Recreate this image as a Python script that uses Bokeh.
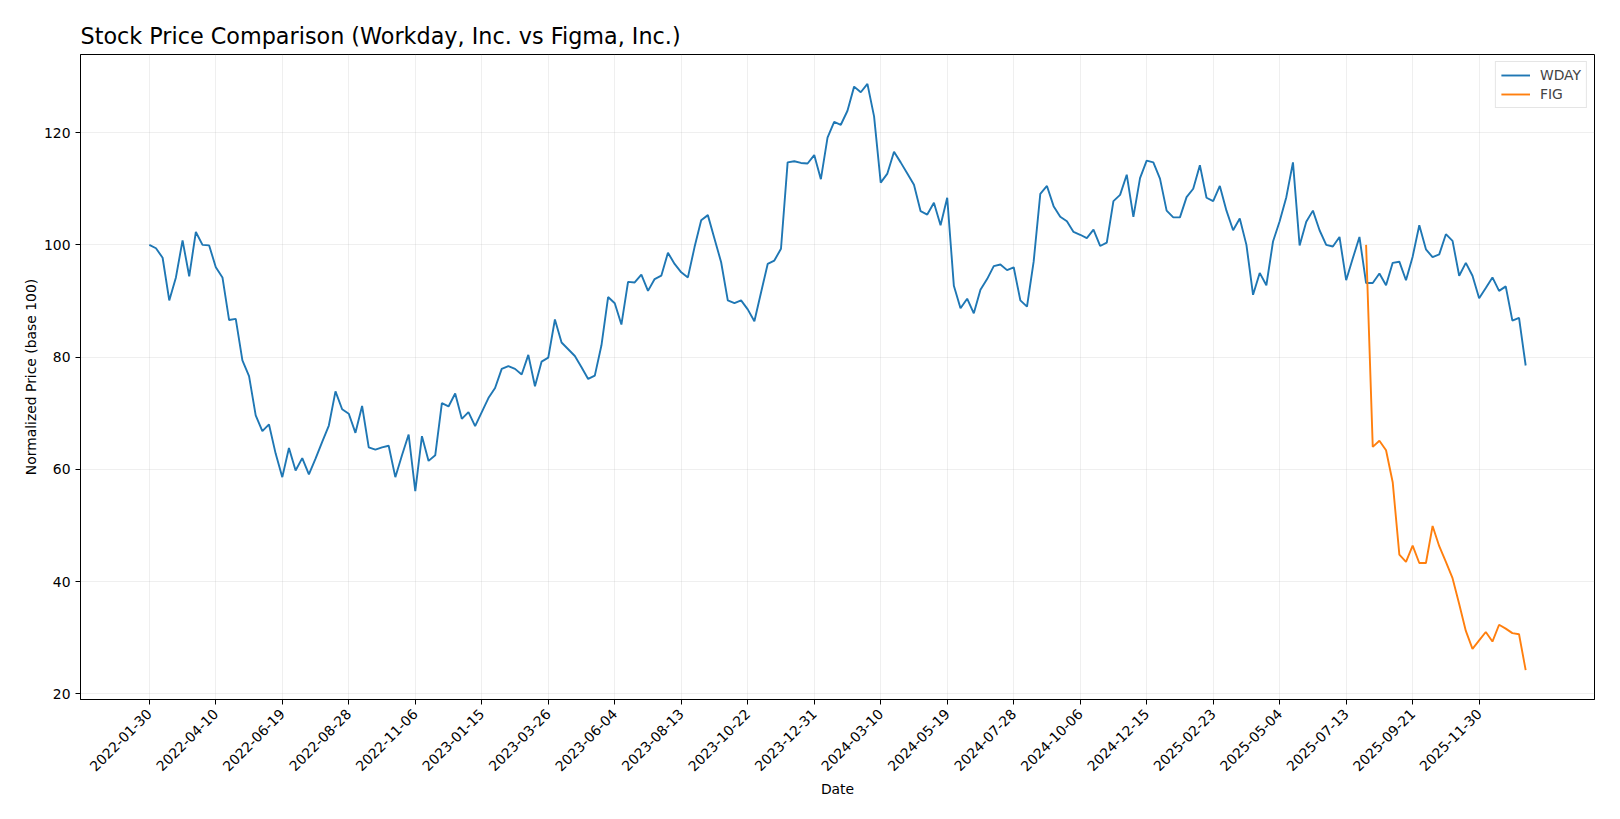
import math
import pandas as pd
from bokeh.plotting import figure
from bokeh.models import (Range1d, FixedTicker, DatetimeTickFormatter, Legend,
                          LegendItem)
from bokeh.embed import file_html
from bokeh.resources import INLINE

TITLE = "Stock Price Comparison (Workday, Inc. vs Figma, Inc.)"
X_LABEL = "Date"
Y_LABEL = "Normalized Price (base 100)"
START_DATE = "2022-01-30"
FIRST_TICK = "2022-01-30"
LAST_TICK = "2025-11-30"
Y_TICKS = [20, 40, 60, 80, 100, 120]

wday = [
    100.0, 99.4, 97.7, 90.1, 94.2, 100.8, 94.4, 102.3, 100.0, 99.9,
    96.0, 94.2, 86.6, 86.8, 79.4, 76.6, 69.6, 66.8, 68.0, 62.8,
    58.6, 63.8, 59.8, 62.0, 59.1, 61.9, 64.9, 67.8, 73.9, 70.7,
    69.9, 66.5, 71.3, 63.9, 63.5, 63.9, 64.2, 58.6, 62.5, 66.2,
    56.1, 65.9, 61.5, 62.5, 71.8, 71.2, 73.5, 69.0, 70.2, 67.7,
    70.2, 72.7, 74.5, 77.9, 78.4, 77.9, 76.9, 80.4, 74.8, 79.2,
    79.9, 86.7, 82.6, 81.4, 80.2, 78.2, 76.1, 76.7, 82.1, 90.7,
    89.6, 85.8, 93.4, 93.3, 94.7, 91.8, 93.9, 94.5, 98.6, 96.6,
    95.1, 94.2, 99.6, 104.4, 105.3, 101.1, 96.9, 90.1, 89.6, 90.1,
    88.5, 86.4, 91.5, 96.6, 97.2, 99.3, 114.7, 114.9, 114.6, 114.5,
    116.0, 111.7, 119.1, 121.9, 121.4, 123.9, 128.2, 127.2, 128.7, 122.9,
    111.1, 112.7, 116.6, 114.7, 112.7, 110.7, 106.0, 105.4, 107.5, 103.5,
    108.4, 92.7, 88.7, 90.4, 87.8, 92.0, 93.9, 96.2, 96.5, 95.5,
    96.0, 90.1, 89.0, 97.0, 109.1, 110.5, 106.9, 105.0, 104.2, 102.3,
    101.8, 101.2, 102.7, 99.8, 100.4, 107.8, 108.9, 112.5, 105.0, 111.9,
    115.0, 114.7, 111.8, 106.1, 104.9, 104.9, 108.5, 110.0, 114.2, 108.4,
    107.8, 110.5, 106.1, 102.6, 104.7, 100.0, 91.1, 95.0, 92.8, 100.6,
    104.2, 108.5, 114.7, 99.9, 104.1, 106.1, 102.6, 100.0, 99.7, 101.4,
    93.7, 97.6, 101.4, 93.2, 93.2, 94.9, 92.8, 96.8, 97.0, 93.7,
    97.9, 103.5, 99.2, 97.8, 98.3, 101.9, 100.7, 94.5, 96.8, 94.5,
    90.5, 92.3, 94.2, 91.8, 92.6, 86.5, 87.0, 78.5,
]

fig_vals = [
    100.0, 64.0, 65.1, 63.4, 57.7, 44.8, 43.5, 46.4, 43.3, 43.3,
    49.9, 46.3, 43.5, 40.6, 36.0, 31.2, 28.0, 29.5, 31.0, 29.3,
    32.3, 31.6, 30.8, 30.6, 24.2,
]

series_names = ["WDAY", "FIG"]
series_colors = ["#1f77b4", "#ff7f0e"]

# weekly (week ending Sunday) dates
dates = pd.date_range(START_DATE, periods=len(wday), freq="W-SUN")
fig_dates = dates[-len(fig_vals):]

def ms(ts):
    return pd.Timestamp(ts).timestamp() * 1000.0

x_ms = [ms(d) for d in dates]
fig_x_ms = [ms(d) for d in fig_dates]

# matplotlib-like 5% margins
x0, x1 = x_ms[0], x_ms[-1]
xpad = (x1 - x0) * 0.05
all_y = wday + fig_vals
y0, y1 = min(all_y), max(all_y)
ypad = (y1 - y0) * 0.05

p = figure(
    x_axis_type="datetime",
    frame_width=1514, frame_height=645,
    min_border_left=80, min_border_top=54, min_border_right=10, min_border_bottom=100,
    output_backend="svg", toolbar_location=None,
    x_range=Range1d(x0 - xpad, x1 + xpad),
    y_range=Range1d(y0 - ypad, y1 + ypad),
    background_fill_color="white", border_fill_color="white",
)

FONT = "DejaVu Sans"

p.title.text = TITLE
p.title.text_font = FONT
p.title.text_font_size = "22.3px"
p.title.text_font_style = "normal"
p.title.text_color = "black"
p.title.align = "left"
p.title.offset = 0
p.title.standoff = 11

p.outline_line_color = "black"
p.outline_line_width = 1
p.outline_line_alpha = 1

tick_dates = pd.date_range(FIRST_TICK, LAST_TICK, freq="70D")
p.xaxis.ticker = FixedTicker(ticks=[ms(d) for d in tick_dates])
fmt = "%Y-%m-%d"
p.xaxis.formatter = DatetimeTickFormatter(
    microseconds=fmt, milliseconds=fmt, seconds=fmt, minsec=fmt, minutes=fmt,
    hourmin=fmt, hours=fmt, days=fmt, months=fmt, years=fmt)
p.xaxis.major_label_orientation = math.pi / 4
p.yaxis.ticker = FixedTicker(ticks=Y_TICKS)

for ax in (p.xaxis, p.yaxis):
    ax.axis_line_color = "black"
    ax.major_tick_line_color = "black"
    ax.major_tick_out = 5
    ax.major_tick_in = 0
    ax.minor_tick_line_color = None
    ax.major_label_text_font = FONT
    ax.major_label_text_font_size = "13.9px"
    ax.major_label_text_color = "black"
    ax.axis_label_text_font = FONT
    ax.axis_label_text_font_size = "13.9px"
    ax.axis_label_text_font_style = "normal"
    ax.axis_label_text_color = "black"

p.xaxis.major_label_standoff = 7
p.yaxis.major_label_standoff = 5
p.xaxis.axis_label = X_LABEL
p.yaxis.axis_label = Y_LABEL
p.xaxis.axis_label_standoff = 2
p.yaxis.axis_label_standoff = 2

p.xgrid.ticker = p.xaxis.ticker
p.ygrid.ticker = p.yaxis.ticker
for g in (p.xgrid, p.ygrid):
    g.grid_line_color = "#b0b0b0"
    g.grid_line_alpha = 0.2
    g.grid_line_width = 1

r_wday = p.line(x_ms, wday, line_color=series_colors[0], line_width=1.9)
r_fig = p.line(fig_x_ms, fig_vals, line_color=series_colors[1], line_width=1.9)

legend = Legend(
    items=[LegendItem(label=series_names[0], renderers=[r_wday]),
           LegendItem(label=series_names[1], renderers=[r_fig])],
    location="top_right",
    margin=7, padding=5, spacing=3,
    glyph_width=29, glyph_height=16, label_height=16, label_standoff=10,
    label_text_font=FONT, label_text_font_size="13.9px",
    border_line_color="#cccccc", border_line_width=1,
    background_fill_color="white", background_fill_alpha=0.8,
)
p.add_layout(legend)

open("out.html", "w").write(file_html(p, INLINE))
